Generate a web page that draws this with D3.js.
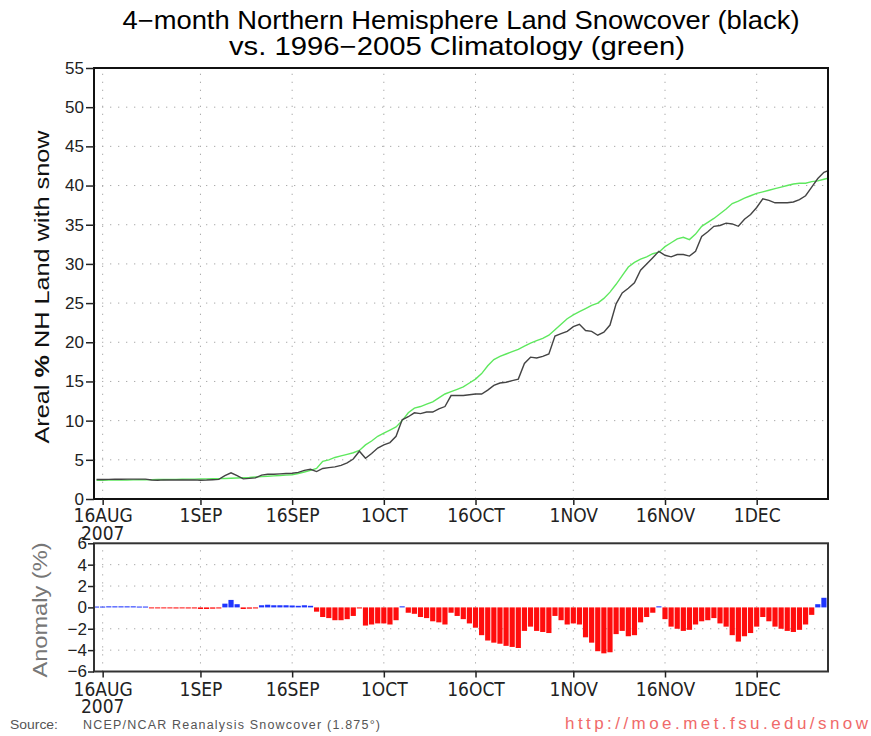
<!DOCTYPE html>
<html>
<head>
<meta charset="utf-8">
<script src="https://cdn.jsdelivr.net/npm/d3@7"></script>
<style>
  body { margin: 0; background: #fff; }
  text { font-family: "Liberation Sans", Arial, sans-serif; }
</style>
</head>
<body>
<div id="chart"></div>
<script>
// daily values starting 15 Aug 2007
const firstDay = "2007-08-15";

const climatology = [
  2.40, 2.40, 2.41, 2.42, 2.42, 2.43, 2.44, 2.45, 2.46, 2.47, 2.48, 2.49, 2.50, 2.51, 2.52, 2.53, 2.54,
  2.55, 2.57, 2.58, 2.60, 2.62, 2.65, 2.68, 2.72, 2.75, 2.80, 2.85, 2.90, 2.95, 3.00, 3.05,
  3.10, 3.25, 3.45, 3.65, 3.90, 4.80, 5.00, 5.30, 5.50, 5.70, 5.90, 6.20, 6.90, 7.40, 8.00,
  8.40, 8.80, 9.20, 10.0, 11.0, 11.6, 11.8, 12.1, 12.4, 12.9, 13.4, 13.7, 14.0, 14.3, 14.8, 15.3,
  16.0, 17.0, 17.8, 18.2, 18.5, 18.8, 19.1, 19.5, 19.9, 20.2, 20.5, 20.9, 21.6, 22.3, 23.0,
  23.5, 23.9, 24.3, 24.7, 25.0, 25.6, 26.4, 27.4, 28.5, 29.6, 30.2, 30.6, 30.9, 31.3, 31.5,
  32.2, 32.7, 33.2, 33.4, 33.1, 33.8, 34.8, 35.3, 35.8, 36.4, 37.0, 37.7, 38.0, 38.4, 38.7,
  39.0, 39.2, 39.4, 39.6, 39.8, 40.0, 40.2, 40.3, 40.3, 40.5, 40.6, 40.8, 41.0
];

const snowcover = [
  2.48, 2.48, 2.51, 2.52, 2.52, 2.53, 2.54, 2.53, 2.54, 2.43, 2.40, 2.44, 2.42, 2.42, 2.44, 2.43, 2.44,
  2.40, 2.42, 2.46, 2.50, 2.97, 3.35, 2.98, 2.57, 2.63, 2.70, 3.05, 3.15, 3.15, 3.20, 3.25,
  3.28, 3.40, 3.65, 3.80, 3.50, 3.90, 4.00, 4.10, 4.30, 4.60, 5.10, 6.10, 5.20, 5.80, 6.50,
  6.90, 7.20, 8.00, 10.1, 10.5, 11.0, 10.9, 11.1, 11.1, 11.5, 11.8, 13.2, 13.2, 13.2, 13.3, 13.4,
  13.4, 13.9, 14.5, 14.8, 14.9, 15.1, 15.3, 17.3, 18.1, 18.0, 18.2, 18.5, 20.8, 21.1, 21.4,
  22.0, 22.3, 21.5, 21.4, 20.9, 21.3, 22.2, 24.9, 26.3, 26.9, 27.6, 29.2, 30.0, 30.8, 31.6,
  31.1, 30.9, 31.2, 31.2, 31.0, 31.6, 33.5, 34.1, 34.8, 34.9, 35.2, 35.1, 34.8, 35.7, 36.3,
  37.2, 38.3, 38.1, 37.8, 37.8, 37.8, 37.9, 38.2, 38.7, 39.8, 40.9, 41.7, 42.0
];

const anomaly = [
  0.08, 0.08, 0.10, 0.10, 0.10, 0.10, 0.10, 0.08, 0.08, -0.05, -0.08, -0.05, -0.08, -0.10, -0.08, -0.10, -0.10,
  -0.15, -0.15, -0.12, -0.10, 0.35, 0.70, 0.30, -0.15, -0.12, -0.10, 0.20, 0.25, 0.20, 0.20, 0.20,
  0.18, 0.15, 0.20, 0.15, -0.40, -0.90, -1.00, -1.20, -1.20, -1.10, -0.80, -0.10, -1.70, -1.60, -1.50,
  -1.50, -1.60, -1.20, 0.10, -0.50, -0.60, -0.90, -1.00, -1.30, -1.40, -1.60, -0.50, -0.80, -1.10, -1.50, -1.90,
  -2.60, -3.10, -3.30, -3.40, -3.60, -3.70, -3.80, -2.20, -1.80, -2.20, -2.30, -2.40, -0.80, -1.20, -1.60,
  -1.50, -1.60, -2.80, -3.30, -4.10, -4.30, -4.20, -2.50, -2.20, -2.70, -2.60, -1.40, -0.90, -0.50, 0.10,
  -1.10, -1.80, -2.00, -2.20, -2.10, -1.60, -1.30, -1.20, -1.00, -1.50, -1.80, -2.60, -3.20, -2.70, -2.40,
  -1.80, -0.90, -1.30, -1.80, -2.00, -2.20, -2.30, -2.10, -1.60, -0.70, 0.30, 0.90, 1.00
];

const tickDays = ["2007-08-16", "2007-09-01", "2007-09-16", "2007-10-01", "2007-10-16", "2007-11-01", "2007-11-16", "2007-12-01"];
const tickLabels = ["16AUG", "1SEP", "16SEP", "1OCT", "16OCT", "1NOV", "16NOV", "1DEC"];
const mainTicks = [0, 5, 10, 15, 20, 25, 30, 35, 40, 45, 50, 55];
const anomTicks = [-6, -4, -2, 0, 2, 4, 6];

(function() {
    var width = 871;
    var height = 736;
    var left = 94, right = 828;
    var top1 = 68, bottom1 = 499;
    var top2 = 543.3, bottom2 = 671.5;

    var svg = d3.select("#chart")
    .append("svg")
    .attr("width", width)
    .attr("height", height);

    var parse = d3.utcParse("%Y-%m-%d");
    var day0 = parse(firstDay);
    var days = climatology.map((v, i) => d3.utcDay.offset(day0, i));

    // domain runs from ~14.6 Aug to ~12.7 Dec
    const xScale = d3.scaleUtc()
    .domain([d3.utcHour.offset(day0, -10), d3.utcHour.offset(parse("2007-12-12"), 16)])
    .range([left, right]);

    const yScale = d3.scaleLinear().domain([0, 55]).range([bottom1, top1]);
    const aScale = d3.scaleLinear().domain([-6, 6]).range([bottom2, top2]);

    const ticks = tickDays.map(parse);

    svg.append("defs").append("clipPath").attr("id", "clip1")
    .append("rect").attr("x", left).attr("y", top1).attr("width", right - left).attr("height", bottom1 - top1);
    svg.select("defs").append("clipPath").attr("id", "clip2")
    .append("rect").attr("x", left).attr("y", top2).attr("width", right - left).attr("height", bottom2 - top2);

    function grid(ys, scale, y0, y1) {
        var g = svg.append("g").attr("stroke", "#aaa").attr("stroke-width", 1).attr("stroke-dasharray", "1.3,6.7");
        g.selectAll(".h").data(ys).enter().append("line")
        .attr("x1", left).attr("x2", right)
        .attr("y1", d => scale(d)).attr("y2", d => scale(d));
        g.selectAll(".v").data(ticks).enter().append("line")
        .attr("x1", d => xScale(d)).attr("x2", d => xScale(d))
        .attr("y1", y1).attr("y2", y0);
    }
    grid(mainTicks.slice(1, -1), yScale, top1, bottom1);
    grid([-4, -2, 2, 4], aScale, top2, bottom2);

    // title
    svg.append("text").attr("x", 461).attr("y", 29).attr("text-anchor", "middle")
    .attr("font-size", 25).attr("textLength", 677).attr("lengthAdjust", "spacingAndGlyphs")
    .text("4\u2212month Northern Hemisphere Land Snowcover (black)");
    svg.append("text").attr("x", 457).attr("y", 55).attr("text-anchor", "middle")
    .attr("font-size", 25).attr("textLength", 456).attr("lengthAdjust", "spacingAndGlyphs")
    .text("vs. 1996\u22122005 Climatology (green)");

    // lines
    const line = d3.line().x((d, i) => xScale(days[i])).y(d => yScale(d));
    var lines = svg.append("g").attr("clip-path", "url(#clip1)").attr("fill", "none");
    lines.append("path").datum(climatology).attr("d", line)
    .attr("stroke", "#5ee85e").attr("stroke-width", 1.4);
    lines.append("path").datum(snowcover).attr("d", line)
    .attr("stroke", "#444").attr("stroke-width", 1.4);

    // anomaly bars
    svg.append("g").attr("clip-path", "url(#clip2)")
    .selectAll("rect").data(anomaly).enter().append("rect")
    .attr("x", (d, i) => xScale(days[i]) - 2.6)
    .attr("width", 5.2)
    .attr("y", d => aScale(Math.max(0, d)))
    .attr("height", d => Math.max(1, Math.abs(aScale(d) - aScale(0))))
    .attr("fill", d => d >= 0 ? "#1f35ff" : "#ff0d0d");

    // frames
    svg.append("rect").attr("x", left).attr("y", top1).attr("width", right - left).attr("height", bottom1 - top1)
    .attr("fill", "none").attr("stroke", "#111").attr("stroke-width", 2);
    svg.append("rect").attr("x", left).attr("y", top2).attr("width", right - left).attr("height", bottom2 - top2)
    .attr("fill", "none").attr("stroke", "#333").attr("stroke-width", 2);

    // axes
    function styleAxis(g, size, family) {
        g.select(".domain").remove();
        g.selectAll("line").attr("stroke", "#222").attr("stroke-width", 1.5);
        g.selectAll("text").attr("font-size", size).attr("fill", "#222")
        .style("font-family", family);
    }
    svg.append("g").attr("transform", `translate(${left},0)`)
    .call(d3.axisLeft(yScale).tickValues(mainTicks).tickSize(8).tickPadding(2))
    .call(g => styleAxis(g, 17, '"Liberation Sans", Arial, sans-serif'));
    svg.append("g").attr("transform", `translate(${left},0)`)
    .call(d3.axisLeft(aScale).tickValues(anomTicks).tickSize(6).tickPadding(1))
    .call(g => styleAxis(g, 17, '"Liberation Sans", Arial, sans-serif'));

    const xAxis = d3.axisBottom(xScale).tickValues(ticks).tickFormat((d, i) => tickLabels[i]).tickSize(6).tickPadding(4);
    svg.append("g").attr("transform", `translate(0,${bottom1})`).call(xAxis)
    .call(g => styleAxis(g, 19, '"Liberation Sans Narrow", "DejaVu Sans Condensed", sans-serif'));
    svg.append("g").attr("transform", `translate(0,${bottom2})`).call(xAxis.tickPadding(5))
    .call(g => styleAxis(g, 19, '"Liberation Sans Narrow", "DejaVu Sans Condensed", sans-serif'));

    [540, 713].forEach(function(y) {
        svg.append("text").attr("x", xScale(ticks[0])).attr("y", y).attr("text-anchor", "middle")
        .attr("font-size", 19).attr("fill", "#222")
        .style("font-family", '"Liberation Sans Narrow", "DejaVu Sans Condensed", sans-serif')
        .text("2007");
    });

    // axis titles
    var yl = svg.append("text").attr("transform", "translate(49,287) rotate(-90)")
    .attr("text-anchor", "middle").attr("font-size", 21).attr("fill", "#111")
    .attr("textLength", 313).attr("lengthAdjust", "spacingAndGlyphs");
    yl.append("tspan").text("Areal ");
    yl.append("tspan").attr("font-weight", "bold").text("%");
    yl.append("tspan").text(" NH Land with snow");

    svg.append("text").attr("transform", "translate(47,610) rotate(-90)")
    .attr("text-anchor", "middle").attr("font-size", 20).attr("fill", "#777")
    .attr("textLength", 135).attr("lengthAdjust", "spacingAndGlyphs")
    .text("Anomaly (%)");

    // footer
    svg.append("text").attr("x", 10).attr("y", 729).attr("font-size", 12.5).attr("fill", "#555")
    .attr("textLength", 48).attr("lengthAdjust", "spacingAndGlyphs").text("Source:");
    svg.append("text").attr("x", 83).attr("y", 729).attr("font-size", 12.5).attr("fill", "#555")
    .attr("textLength", 297).attr("lengthAdjust", "spacing").text("NCEP/NCAR Reanalysis Snowcover (1.875\u00b0)");
    svg.append("text").attr("x", 565).attr("y", 729).attr("font-size", 17).attr("fill", "#f06a6a")
    .attr("textLength", 303).attr("lengthAdjust", "spacing").text("http://moe.met.fsu.edu/snow");
})();
</script>
</body>
</html>
